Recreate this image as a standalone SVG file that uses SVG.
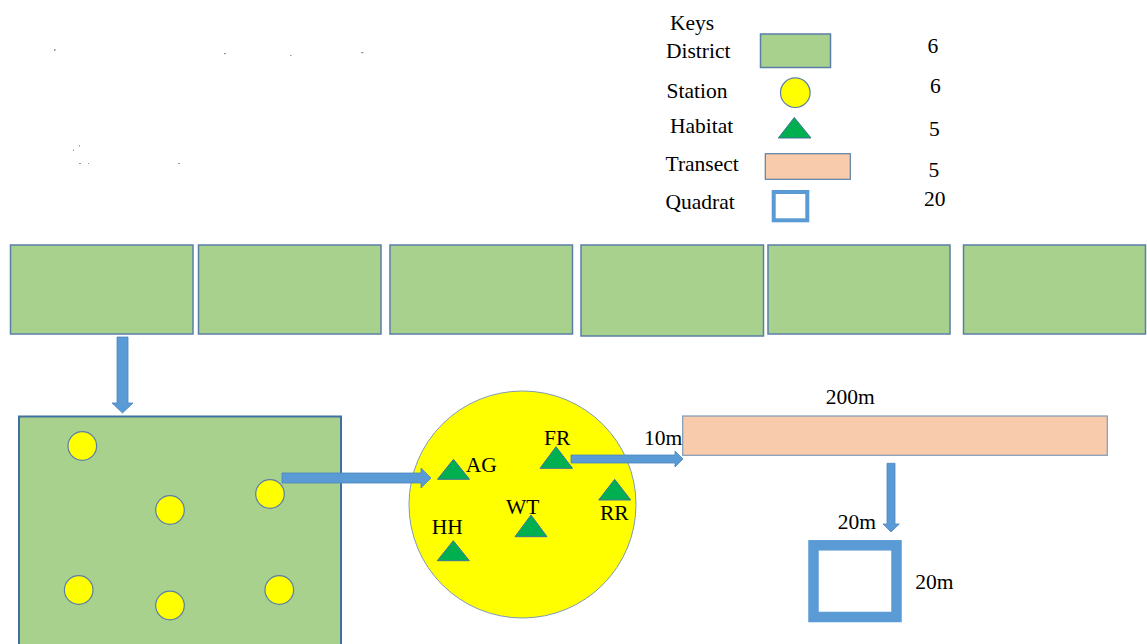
<svg xmlns="http://www.w3.org/2000/svg" width="1147" height="644" viewBox="0 0 1147 644" font-family="'Liberation Serif', serif">
<style>
.t{font-size:21.5px;fill:#000}
.dist{fill:#A9D18E;stroke:#5A7FA6;stroke-width:1.5}
.stn{fill:#FFFF00;stroke:#5A7FA6;stroke-width:1.2}
.hab{fill:#00B050;stroke:#41719C;stroke-width:1}
.arr{fill:#5B9BD5;stroke:#4A85BD;stroke-width:0.8}
.speck{fill:#999}
</style>
<rect width="1147" height="644" fill="#fff"/>
<g id="specks">
<rect class="speck" x="54" y="49" width="1.5" height="2"/>
<rect class="speck" x="224" y="53" width="2" height="1.2"/>
<rect class="speck" x="290" y="55" width="1.5" height="1"/>
<rect class="speck" x="361" y="52" width="2.5" height="1.2"/>
<rect class="speck" x="79" y="145" width="1" height="1.5"/>
<rect class="speck" x="73" y="149.5" width="1" height="1.5"/>
<rect class="speck" x="79" y="163" width="2" height="1"/>
<rect class="speck" x="88" y="163" width="1" height="1"/>
<rect class="speck" x="178" y="163" width="2" height="1"/>
</g>
<g id="legend">
<text class="t" x="670" y="30">Keys</text>
<text class="t" x="666" y="58">District</text>
<rect class="dist" x="760.5" y="34" width="70" height="33.5"/>
<text class="t" x="927.5" y="53">6</text>
<text class="t" x="666.5" y="98">Station</text>
<circle class="stn" cx="795.3" cy="92.7" r="14.8"/>
<text class="t" x="930" y="93">6</text>
<text class="t" x="670" y="133">Habitat</text>
<polygon class="hab" points="794.3,117.5 811,138 778.3,138"/>
<text class="t" x="929" y="136">5</text>
<text class="t" x="665.5" y="171">Transect</text>
<rect x="765.3" y="153.7" width="85" height="25.6" fill="#F8CBAD" stroke="#5A7FA6" stroke-width="1.2"/>
<text class="t" x="928.5" y="177">5</text>
<text class="t" x="665.5" y="208.5">Quadrat</text>
<rect x="773.7" y="192" width="33.6" height="28.3" fill="#fff" stroke="#5B9BD5" stroke-width="4"/>
<text class="t" x="924" y="206">20</text>
</g>
<g id="districts">
<rect id="district-1" class="dist" x="10.5" y="245" width="182.5" height="89"/>
<rect id="district-2" class="dist" x="198.5" y="245" width="182.5" height="89"/>
<rect id="district-3" class="dist" x="390" y="245" width="182.5" height="89"/>
<rect id="district-4" class="dist" x="581" y="245" width="182.5" height="91"/>
<rect id="district-5" class="dist" x="768" y="245" width="182" height="89"/>
<rect id="district-6" class="dist" x="963.5" y="245" width="182" height="89"/>
</g>
<g id="district-detail">
<rect x="19" y="416.5" width="322" height="240" fill="#A9D18E" stroke="#41719C" stroke-width="2"/>
</g>
<g id="stations">
<circle class="stn" cx="82.3" cy="446" r="14.3"/>
<circle class="stn" cx="170" cy="510" r="14.3"/>
<circle class="stn" cx="270" cy="494" r="14.3"/>
<circle class="stn" cx="78.7" cy="590" r="14.3"/>
<circle class="stn" cx="170" cy="605.5" r="14.3"/>
<circle class="stn" cx="279.3" cy="590" r="14.3"/>
</g>
<g id="station-detail">
<circle cx="522.5" cy="504.5" r="113.5" fill="#FFFF00" stroke="#7F9AB5" stroke-width="1"/>
</g>
<g id="habitats">
<g id="hab-AG"><polygon class="hab" points="453.5,459.3 469.5,479.3 437.5,479.3"/><text class="t" x="465.7" y="472">AG</text></g>
<g id="hab-FR"><polygon class="hab" points="556,446.7 572.5,468.3 540,468.3"/><text class="t" x="544" y="445">FR</text></g>
<g id="hab-RR"><polygon class="hab" points="614.7,479.3 630.7,500 598.7,500"/><text class="t" x="600" y="520">RR</text></g>
<g id="hab-WT"><polygon class="hab" points="531,515 547,536.7 515,536.7"/><text class="t" x="506" y="514.3">WT</text></g>
<g id="hab-HH"><polygon class="hab" points="453.3,540.7 469.3,560.7 437.3,560.7"/><text class="t" x="431.7" y="534.3">HH</text></g>
</g>
<g id="transect">
<rect x="682.7" y="416" width="424.6" height="39.3" fill="#F8CBAD" stroke="#7F9AB5" stroke-width="1.2"/>
<text class="t" x="825.7" y="404.3">200m</text>
<text class="t" x="644" y="445">10m</text>
</g>
<g id="quadrat">
<rect x="813.5" y="545.3" width="83" height="71.7" fill="#fff" stroke="#5B9BD5" stroke-width="10.5"/>
<text class="t" x="837.7" y="529">20m</text>
<text class="t" x="915.3" y="589.3">20m</text>
</g>
<g id="connectors">
<polygon class="arr" points="117,337 128,337 128,403 133,403 122.5,413 112,403 117,403"/>
<polygon class="arr" points="282,473 421,473 421,468 431,478 421,488 421,483 282,483"/>
<polygon class="arr" points="571,455 675,455 675,451 683,459 675,467 675,463 571,463"/>
<polygon class="arr" points="887,463.3 895,463.3 895,524 899.3,524 891,532 883,524 887,524"/>
</g>
</svg>
